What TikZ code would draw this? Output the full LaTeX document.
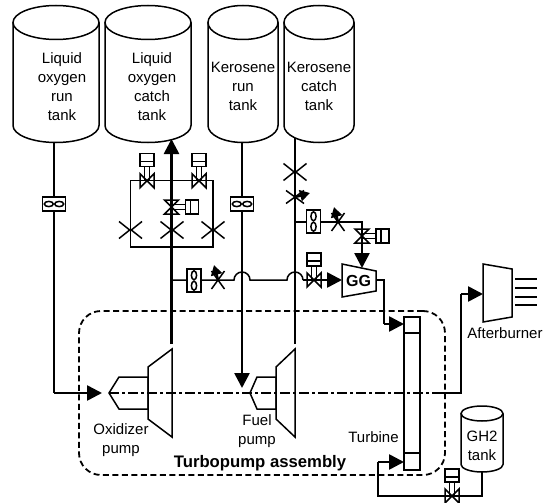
\documentclass[tikz,border=0pt]{standalone}
\usepackage{fontspec}
\setmainfont{Liberation Sans}
\usetikzlibrary{arrows.meta}
\tikzstyle{tanktext} = [font=\fontsize{15}{19}\selectfont, align=center, inner sep=0pt]
\tikzstyle{lbl} = [font=\fontsize{15}{19}\selectfont, align=center, inner sep=0pt]
\tikzstyle{line} = [line width=1.5pt]
\tikzstyle{pipe} = [line width=2.6pt]
\tikzstyle{arrow} = [line width=2.6pt, -{Triangle[length=15pt,width=15pt]}]
\tikzstyle{shaft} = [line width=1.5pt, dash pattern=on 10pt off 3pt on 3pt off 3pt]
\tikzstyle{assy} = [rectangle, rounded corners=22pt, draw=black, line width=1.8pt, dash pattern=on 6pt off 3.5pt, minimum width=366pt, minimum height=164pt]
\tikzset{
  pics/drum/.style n args={3}{code={
    \draw [line] (-#1,-#3) -- (-#1,#3) arc[start angle=180, end angle=360, x radius=#1pt, y radius=#2pt] -- (#1,-#3);
    \draw [line] (0,-#3) ellipse [x radius=#1pt, y radius=#2pt];
  }},
  pics/valve/.style={code={
    \draw [line, fill=white] (-7,-27) rectangle (7,-14);
    \draw [line] (-7,-19) -- (7,-19);
    \draw [line] (-2.5,-14) -- (-2.5,0);
    \draw [line] (2.5,-14) -- (2.5,0);
    \draw [line] (0,0) -- (-7,-7) -- (-7,7) -- cycle;
    \draw [line] (0,0) -- (7,-7) -- (7,7) -- cycle;
  }},
  pics/meter/.style={code={
    \draw [line, fill=white] (-11.5,-7) rectangle (11.5,7);
    \draw [line] (-5.2,0) ellipse [x radius=4.5pt, y radius=2.6pt];
    \draw [line] (5.2,0) ellipse [x radius=4.5pt, y radius=2.6pt];
  }},
  pics/orifice/.style={code={
    \draw [line] (-11.5,-8.5) -- (-0.8,0) -- (-11.5,8.5);
    \draw [line] (11.5,-8.5) -- (0.8,0) -- (11.5,8.5);
  }},
  pics/needle/.style={code={
    \draw [line] (-6.5,-9) -- (6.5,9);
    \draw [line] (6.5,-9) -- (-6.5,9);
    \draw [line width=2.6pt, -{Triangle[length=10pt,width=11pt]}] (0,0) -- (-4,-15);
  }},
}

\begin{document}
\begin{tikzpicture}[x=1pt, y=-1pt, node distance=10pt]
  \useasboundingbox (0,0) rectangle (546,503);
  \pic at (56,74) {drum={43}{17}{51.5}};
  \pic at (148,74) {drum={43}{17}{51.5}};
  \pic at (243,74) {drum={35}{17}{51.5}};
  \pic at (319,74) {drum={35}{17}{51.5}};
  \pic at (482,439) {drum={21}{7.5}{25.5}};
  \node (LOXR) [tanktext] at (62,87) {Liquid\\oxygen\\run\\tank};
  \node (LOXC) [tanktext, right of=LOXR, xshift=80pt] {Liquid\\oxygen\\catch\\tank};
  \node (KERR) [tanktext, right of=LOXC, xshift=81pt, yshift=1pt] {Kerosene\\run\\tank};
  \node (KERC) [tanktext, right of=KERR, xshift=66pt] {Kerosene\\catch\\tank};
  \node (GHT) [tanktext] at (482,446) {GH2\\tank};

  \node (ASSY) [assy] at (262,393) {};
  \node (TASSY) [lbl, font=\fontsize{16.7}{19}\selectfont\bfseries] at (260,463) {Turbopump assembly};
  \node (TOXP) [lbl] at (121,440) {Oxidizer\\pump};
  \node (TFUP) [lbl] at (257,431) {Fuel\\pump};
  \node (TTUR) [lbl] at (373.5,437) {Turbine};
  \node (TAFT) [lbl] at (505,333) {Afterburner};

  % pumps, turbine, gas generator, afterburner
  \draw [line] (109,393) -- (119,377) -- (148,377) -- (148,409) -- (119,409) -- cycle;
  \draw [line] (148,367) -- (172,349) -- (172,437) -- (148,419) -- cycle;
  \draw [line] (250,393) -- (257,377) -- (276,377) -- (276,409) -- (257,409) -- cycle;
  \draw [line] (276,367) -- (295,349) -- (295,437) -- (276,419) -- cycle;
  \draw [line] (404,317) rectangle (420,470);
  \draw [line] (404,333) -- (420,333);
  \draw [line] (404,453) -- (420,453);
  \node (GG) [lbl, font=\fontsize{16}{19}\selectfont\bfseries] at (358.5,281) {GG};
  \draw [line] (342,264) -- (376,271) -- (376,291) -- (342,297) -- cycle;
  \draw [line] (483,264) -- (512,269) -- (512,317) -- (483,322) -- cycle;
  \foreach \y in {279,288,297,305}
    \draw [line] (515,\y) -- (537,\y);

  \coordinate (a1) at (54,142);
  \coordinate (a2) at (54,393);
  \coordinate (a3) at (102,393);
  \coordinate (b1) at (171.5,344);
  \coordinate (b2) at (171.5,139);
  \coordinate (c1) at (242,142);
  \coordinate (c2) at (242,388);
  \coordinate (d1) at (295,344);
  \coordinate (d2) at (295,138);
  \coordinate (e1) at (130.5,180.7);
  \coordinate (e2) at (213,180.7);
  \coordinate (e3) at (130.5,247);
  \coordinate (e4) at (213,247);
  \coordinate (f1) at (171.5,280);
  \coordinate (f2) at (234,280);
  \coordinate (f3) at (250,280);
  \coordinate (f4) at (287,280);
  \coordinate (f5) at (303,280);
  \coordinate (f6) at (342,280);
  \coordinate (g1) at (295,222);
  \coordinate (g2) at (362,222);
  \coordinate (g3) at (362,236);
  \coordinate (g4) at (362,268);
  \coordinate (h1) at (376,280);
  \coordinate (h2) at (384,280);
  \coordinate (h3) at (384,324);
  \coordinate (h4) at (404,324);
  \coordinate (s1) at (109,393);
  \coordinate (s2) at (432,393);
  \coordinate (s3) at (461,393);
  \coordinate (s4) at (461,294);
  \coordinate (s5) at (483,294);
  \coordinate (k1) at (482,472);
  \coordinate (k2) at (482,496);
  \coordinate (k3) at (378,496);
  \coordinate (k4) at (378,462);
  \coordinate (k5) at (404,462);

  \draw [line] (a1) -- (a2);
  \draw [arrow] (a2) -- (a3);
  \draw [arrow] (b1) -- (b2);
  \draw [arrow] (c1) -- (c2);
  \draw [pipe] (d1) -- (d2);
  \draw [line] (e1) -- (e2) -- (e4) -- (e3) -- cycle;
  \draw [line] (f1) -- (f2) arc[start angle=180, end angle=0, radius=8pt] -- (f4) arc[start angle=180, end angle=0, radius=8pt];
  \draw [arrow] (f5) -- (f6);
  \draw [line] (g1) -- (g2) -- (g3);
  \draw [arrow] (g3) -- (g4);
  \draw [line] (h1) -- (h2) -- (h3);
  \draw [arrow] (h3) -- (h4);
  \draw [shaft] (s1) -- (s2);
  \draw [line] (s2) -- (s3) -- (s4);
  \draw [arrow] (s4) -- (s5);
  \draw [line] (k1) -- (k2) -- (k3) -- (k4);
  \draw [arrow] (k4) -- (k5);

  \pic at (54,204) {meter};
  \pic at (242,204) {meter};
  \pic [rotate=90] at (194,280.5) {meter};
  \pic [rotate=90] at (313.5,221.5) {meter};
  \pic at (147,180.7) {valve};
  \pic at (199,180.7) {valve};
  \pic at (314,280) {valve};
  \pic at (452,496) {valve};
  \pic [rotate=-90] at (171.5,207) {valve};
  \pic [rotate=-90] at (362,236) {valve};
  \pic at (130.5,230) {orifice};
  \pic at (172,230) {orifice};
  \pic at (213,230) {orifice};
  \pic at (295,172) {orifice};
  \pic at (218,280) {needle};
  \pic at (338,222) {needle};
  \pic [rotate=-90] at (295,197) {needle};
\end{tikzpicture}
\end{document}
